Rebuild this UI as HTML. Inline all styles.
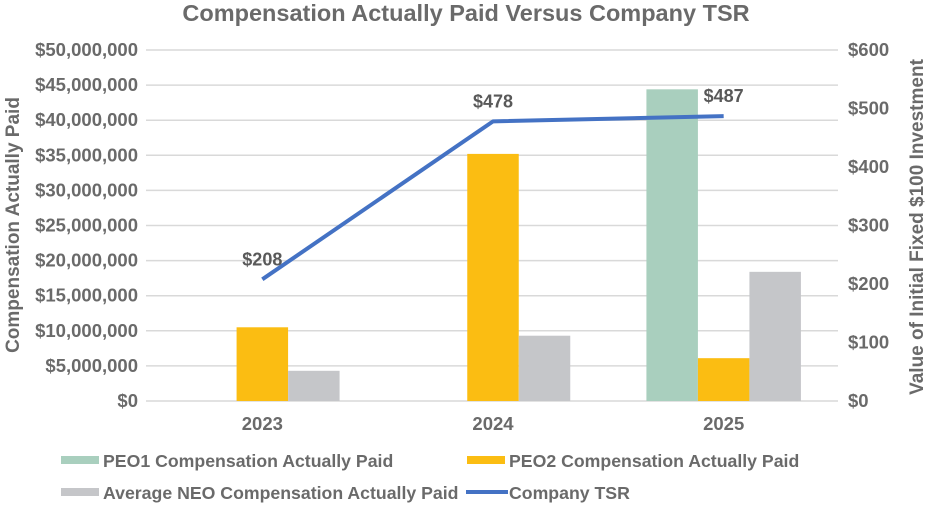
<!DOCTYPE html>
<html><head><meta charset="utf-8"><style>
body{margin:0;background:#fff;}
svg text{font-family:"Liberation Sans",Arial,sans-serif;font-weight:bold;}
</style></head><body>
<svg id="chart" width="933" height="504" viewBox="0 0 933 504" xmlns="http://www.w3.org/2000/svg">
<text x="466" y="21" text-anchor="middle" font-size="23.5" fill="#6a6a6a">Compensation Actually Paid Versus Company TSR</text>
<g id="grid"></g><g id="bars"></g><g id="line"></g><g id="axes"></g>
<text transform="translate(19,225) rotate(-90)" text-anchor="middle" font-size="19" fill="#6a6a6a">Compensation Actually Paid</text>
<text transform="translate(923,227) rotate(-90)" text-anchor="middle" font-size="19" fill="#6a6a6a">Value of Initial Fixed $100 Investment</text>
<g font-size="17.7" fill="#6a6a6a">
<rect x="61" y="456" width="38" height="8" fill="#a9cfbe"/>
<text x="103" y="467">PEO1 Compensation Actually Paid</text>
<rect x="467" y="456" width="38" height="8" fill="#fbbd12"/>
<text x="509" y="467">PEO2 Compensation Actually Paid</text>
<rect x="61" y="488" width="38" height="8" fill="#c5c6c9"/>
<text x="103" y="499">Average NEO Compensation Actually Paid</text>
<rect x="466" y="490" width="42" height="4" fill="#4472c4"/>
<text x="509" y="499">Company TSR</text>
</g>
</svg>
<script>
const categories=["2023","2024","2025"];
const peo1=[0,0,44400000];
const peo2=[10500000,35200000,6100000];
const neo=[4300000,9300000,18400000];
const tsr=[208,478,487];
const tsrLabels=["$208","$478","$487"];
const leftTicks=[0,5e6,10e6,15e6,20e6,25e6,30e6,35e6,40e6,45e6,50e6];
const rightTicks=[0,100,200,300,400,500,600];

const NS="http://www.w3.org/2000/svg";
const X0=146,X1=838,Y0=401,Y1=50;
const yL=v=>Y0-(v/50e6)*(Y0-Y1);
const yR=v=>Y0-(v/600)*(Y0-Y1);
const band=(X1-X0)/categories.length;
const xC=i=>X0+band*(i+0.5)+1;
const bw=51.5;
function mk(tag,attrs,parent){const e=document.createElementNS(NS,tag);for(const k in attrs)e.setAttribute(k,attrs[k]);document.getElementById(parent).appendChild(e);return e;}
const fmt=v=>"$"+v.toLocaleString("en-US");
leftTicks.forEach(v=>{
 const l=mk("line",{x1:X0,x2:X1,y1:yL(v),y2:yL(v),stroke:"#d9d9d9","stroke-width":1.5},"grid");
 
 
 const t=mk("text",{x:138,y:yL(v)+6,"text-anchor":"end","font-size":18.5,fill:"#6a6a6a"},"axes");
 t.textContent=fmt(v);
 
 
});
rightTicks.forEach(v=>{
 const t=mk("text",{x:848,y:yR(v)+6,"font-size":18.5,fill:"#6a6a6a"},"axes");
 t.textContent="$"+v;
 
 
});
categories.forEach((c,i)=>{
 const t=mk("text",{x:xC(i),y:430,"text-anchor":"middle","font-size":18.5,fill:"#6a6a6a"},"axes");
 t.textContent=c;
 
 
 [[peo1,"#a9cfbe","bar-peo1"],[peo2,"#fbbd12","bar-peo2"],[neo,"#c5c6c9","bar-neo"]].forEach((s,j)=>{
  const v=s[0][i]; if(!v) return;
  const r=mk("rect",{x:xC(i)-1.5*bw+j*bw,y:yL(v),width:bw,height:Y0-yL(v),fill:s[1]},"bars");
  
  
 });
});
const p=mk("polyline",{points:tsr.map((v,i)=>xC(i)+","+yR(v)).join(" "),fill:"none",stroke:"#4472c4","stroke-width":4,"stroke-linejoin":"round"},"line");


tsr.forEach((v,i)=>{
 const t=mk("text",{x:xC(i),y:yR(v)-14,"text-anchor":"middle","font-size":18,fill:"#595959"},"line");
 t.textContent=tsrLabels[i];
 
 
});
</script>
</body></html>
